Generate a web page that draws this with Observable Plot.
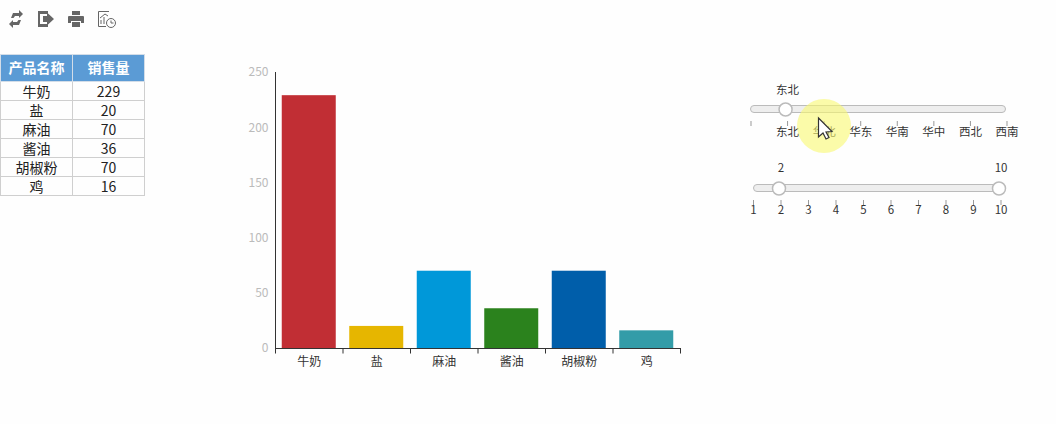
<!DOCTYPE html>
<html lang="zh">
<head>
<meta charset="utf-8">
<script src="https://cdn.jsdelivr.net/npm/d3@7"></script>
<script src="https://cdn.jsdelivr.net/npm/@observablehq/plot@0.6"></script>
<style>
html,body{margin:0;padding:0;background:#fefefe;overflow:hidden}
body{width:1056px;height:424px;position:relative;font-family:"Noto Sans CJK SC","Noto Sans",sans-serif}
.abs{position:absolute}
svg{display:block}
table{border-collapse:collapse;table-layout:fixed;width:145px;left:0;top:54px;font-size:14px;color:#222}
th{background:#5b9bd5;color:#fff;height:27px;padding:0;font-weight:700;border:1px solid #d3dde8;font-size:14px;line-height:14px;padding-bottom:2px;box-sizing:border-box}
td{padding:0 0 1px 0;text-align:center;border:1px solid #cfcfcf;line-height:14px;box-sizing:border-box;height:19px}
.track{position:absolute;box-sizing:border-box;background:#eee;border:1px solid #bbb;border-radius:4px;height:8px}
</style>
</head>
<body>
<div id="chart" class="abs" style="left:0;top:0"></div>
<div class="track" style="left:750px;top:105px;width:256px"></div>
<div class="track" style="left:753px;top:184px;width:247px"></div>
<div id="s1" class="abs" style="left:740px;top:75px"></div>
<div id="s2" class="abs" style="left:740px;top:155px"></div>
<table id="tbl" class="abs"></table>

<svg class="abs" style="left:0;top:0" width="130" height="36" fill="#666">
  <g transform="translate(9,11)">
    <path d="M2 7 L4 2 H10 V-1 L14 3 L10 7 V5 H6 L4.500 7 Z"/>
    <path d="M12 9 L10 14 H4 V17 L0 13 L4 9 V11 H8 L9.500 9 Z"/>
  </g>
  <g transform="translate(38,11)">
    <path d="M0 0 H10 V3 H2 V13 H10 V16 H0 Z"/>
    <path d="M5 5 H9 V1.500 L16 8 L9 14.500 V11 H5 Z"/>
  </g>
  <g transform="translate(68,11)">
    <path d="M4 0 H12 V4 H4 Z"/>
    <path d="M1 5 H15 Q16 5 16 6 V12 H13 V10 H3 V12 H0 V6 Q0 5 1 5 Z"/>
    <path d="M4 11 H12 V16 H4 Z"/>
  </g>
  <g transform="translate(98,11)" fill="none" stroke="#666" stroke-width="1">
    <path d="M0.500 0.500 H11 M0.500 0.500 V15.500 H8"/>
    <path d="M3 13 V9 M6 13 V6 M2 7 L7 3 L10 5"/>
    <circle cx="13" cy="12" r="4.500"/>
    <path d="M13 9.500 V12 H15.500"/>
  </g>
</svg>

<svg class="abs" style="left:790px;top:95px;pointer-events:none" width="70" height="62">
  <circle cx="34" cy="31" r="27" fill="#f8f870" fill-opacity="0.6"/>
  <path d="M28.500 23 V42 L33 38 L36 44 L39 42.500 L36 37 L42 36.500 Z" fill="#fff" stroke="#333" stroke-width="1.200"/>
</svg>

<script>
const products = ["牛奶", "盐", "麻油", "酱油", "胡椒粉", "鸡"];
const sales = [229, 20, 70, 36, 70, 16];
const barColors = ["#c12e34", "#e6b600", "#0098d9", "#2b821d", "#005eaa", "#339ca8"];
const salesTicks = [0, 50, 100, 150, 200, 250];
const tableHeaders = ["产品名称", "销售量"];
const regions = ["", "东北", "华北", "华东", "华南", "华中", "西北", "西南"];
const regionSelected = ["东北"];
const levels = [1, 2, 3, 4, 5, 6, 7, 8, 9, 10];
const levelSelected = [2, 10];

const FONT = '"Noto Sans CJK SC","Noto Sans",sans-serif';
const rows = products.map((name, i) => ({name, value: sales[i], color: barColors[i]}));

// table
const tbl = d3.select("#tbl");
tbl.append("tr").selectAll("th").data(tableHeaders).join("th").text(d => d);
rows.forEach(r => {
  const tr = tbl.append("tr");
  tr.append("td").text(r.name);
  tr.append("td").text(r.value);
});

// bar chart
const step = 67.5;
document.getElementById("chart").append(Plot.plot({
  width: 1056, height: 424,
  marginLeft: 275, marginRight: 376, marginTop: 72, marginBottom: 76,
  style: {background: "transparent", fontFamily: FONT},
  x: {domain: products, paddingInner: 0.2, paddingOuter: 0.1, round: false, label: null},
  y: {domain: [0, 250], label: null},
  marks: [
    Plot.barY(rows, {x: "name", y: "value", fill: "color"}),
    Plot.frame({anchor: "left", stroke: "#333"}),
    Plot.frame({anchor: "bottom", stroke: "#333"}),
    Plot.ruleX(products, {x: d => d, y1: 0, y2: -5, dx: -step / 2, stroke: "#333"}),
    Plot.ruleX(products.slice(-1), {x: d => d, y1: 0, y2: -5, dx: step / 2, stroke: "#333"}),
    Plot.axisY({ticks: salesTicks, tickSize: 0, tickPadding: 7, fontSize: 12, color: "#bbb", label: null}),
    Plot.axisX({tickSize: 0, tickPadding: 9, fontSize: 12, color: "#333", label: null})
  ]
}));

// slider drawn with its own point scale
function slider(el, {domain, selected, height, x0, x1, trackY, tickY, labelY, valueY}) {
  document.getElementById(el).append(Plot.plot({
    width: 290, height,
    margin: 0,
    style: {background: "transparent", fontFamily: FONT, overflow: "visible"},
    x: {type: "point", domain, range: [x0, x1], padding: 0, round: false, axis: null},
    y: {domain: [0, height], range: [0, height], axis: null},
    marks: [
      Plot.ruleX(domain, {x: d => d, y1: tickY, y2: tickY + 5, stroke: "#999"}),
      Plot.text(domain, {x: d => d, y: () => labelY, text: d => String(d), fontSize: 11.500, fill: "#333"}),
      Plot.dot(selected, {x: d => d, y: () => trackY, dx: -2, r: 6.500, fill: "#fff", stroke: "#bbb", strokeWidth: 1.500}),
      Plot.text(selected, {x: d => d, y: () => valueY, text: d => String(d), fontSize: 11.500, fill: "#333"})
    ]
  }));
}
slider("s1", {domain: regions, selected: regionSelected, height: 70, x0: 10.500, x1: 266.500, trackY: 34, tickY: 46, labelY: 57, valueY: 15});
slider("s2", {domain: levels, selected: levelSelected, height: 70, x0: 13, x1: 260.500, trackY: 33, tickY: 45, labelY: 55, valueY: 13});
</script>
</body>
</html>
